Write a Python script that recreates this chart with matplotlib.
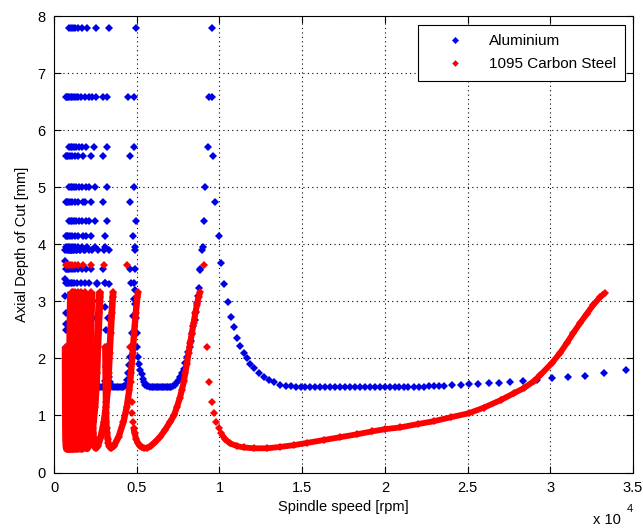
import numpy as np
import matplotlib.pyplot as plt

plt.rcParams['font.family'] = ['Liberation Sans', 'DejaVu Sans']

# spindle speed in 1000 rpm, depth of cut in mm

# --- Aluminium: isolated rows of points at high depth
al_row_depth = [7.79, 6.58, 5.70, 5.55, 5.00, 4.75, 4.40, 4.15, 3.96, 3.57, 3.32]
al_row_speed = [
    [0.92, 1.02, 1.13, 1.27, 1.45, 1.69, 2.00, 2.52, 3.33, 4.94, 9.55],
    [0.72, 0.78, 0.85, 0.92, 1.00, 1.10, 1.20, 1.32, 1.47, 1.63, 1.85, 2.12, 2.32, 2.52, 2.98, 3.23, 4.48, 4.84, 9.34, 9.55],
    [0.92, 1.00, 1.08, 1.20, 1.35, 1.50, 1.70, 1.92, 2.42, 3.23, 4.84, 9.28],
    [0.71, 0.78, 0.86, 0.96, 1.08, 1.24, 1.45, 1.75, 2.26, 2.98, 4.60, 9.64],
    [0.92, 1.00, 1.08, 1.20, 1.35, 1.50, 1.70, 1.92, 2.10, 2.46, 3.23, 4.84, 9.14],
    [0.71, 0.78, 0.86, 0.96, 1.08, 1.24, 1.45, 1.75, 1.88, 2.26, 2.98, 4.60, 9.75],
    [0.92, 1.00, 1.08, 1.20, 1.35, 1.50, 1.70, 1.92, 2.10, 2.46, 3.23, 4.94, 9.04],
    [0.71, 0.78, 0.86, 0.96, 1.08, 1.24, 1.45, 1.75, 1.94, 2.26, 3.06, 4.78, 9.95],
    [0.75, 0.82, 0.90, 1.00, 1.12, 1.26, 1.45, 1.70, 2.00, 2.46, 3.06, 4.90, 8.98],
    [0.72, 0.78, 0.85, 0.93, 1.02, 1.13, 1.27, 1.45, 1.68, 1.95, 2.26, 2.98, 4.60, 8.84],
    [0.70, 0.76, 0.83, 0.91, 1.00, 1.10, 1.23, 1.40, 1.62, 1.90, 2.10, 2.62, 3.06, 4.64],
]

# --- Aluminium lobes
al0_x = [10.09, 10.28, 10.53, 10.68, 10.86, 11.08, 11.26, 11.46, 11.66, 11.86,
         12.10, 12.37, 12.67, 12.97, 13.30, 13.68, 14.00, 14.30,
         14.60, 14.90, 15.20, 15.50, 15.80, 16.10, 16.40, 16.70, 17.00, 17.30,
         17.60, 17.90, 18.20, 18.50, 18.80, 19.10, 19.40, 19.70, 20.00, 20.30,
         20.60, 20.85, 21.15, 21.40, 21.75, 22.05, 22.35, 22.65, 22.96, 23.26, 23.57,
         24.07, 24.58, 25.08, 25.62, 26.29, 26.92, 27.56, 28.37, 29.20, 30.13,
         31.04, 32.10, 33.23, 34.58]
al0_y = [3.67, 3.30, 2.99, 2.72, 2.55, 2.35, 2.22, 2.10, 2.00, 1.90,
         1.83, 1.75, 1.68, 1.62, 1.58, 1.54, 1.52, 1.51,
         1.50, 1.50, 1.50, 1.50, 1.50, 1.50, 1.50, 1.50, 1.50, 1.50,
         1.50, 1.50, 1.50, 1.50, 1.50, 1.50, 1.50, 1.50, 1.50, 1.50,
         1.50, 1.50, 1.50, 1.50, 1.50, 1.50, 1.50, 1.51, 1.51, 1.51, 1.52,
         1.53, 1.535, 1.55, 1.56, 1.57, 1.575, 1.59, 1.605, 1.62, 1.65,
         1.68, 1.70, 1.75, 1.79]

al1_x = [4.88, 4.92, 4.96, 5.00, 5.04, 5.10, 5.15, 5.22, 5.29, 5.35, 5.42,
         5.50, 5.60, 5.70, 5.80, 5.90, 6.00, 6.10, 6.20, 6.30, 6.40, 6.50,
         6.60, 6.70, 6.80, 6.90, 7.00, 7.10, 7.20,
         7.32, 7.43, 7.53, 7.63, 7.73, 7.83, 7.93, 8.03, 8.12, 8.20,
         8.28, 8.36, 8.43, 8.50, 8.57, 8.64, 8.70, 8.76, 8.84, 8.96]
al1_y = [3.20, 2.95, 2.70, 2.45, 2.20, 2.02, 1.90, 1.80, 1.72, 1.64, 1.58,
         1.54, 1.52, 1.51, 1.50, 1.50, 1.50, 1.50, 1.50, 1.50, 1.50, 1.50,
         1.50, 1.50, 1.50, 1.50, 1.50, 1.50, 1.51,
         1.54, 1.59, 1.63, 1.68, 1.74, 1.82, 1.92, 2.02, 2.12, 2.20,
         2.30, 2.42, 2.56, 2.68, 2.82, 2.97, 3.10, 3.23, 3.55, 3.90]

al2_x = [3.02, 3.06, 3.10, 3.14, 3.18, 3.22, 3.27, 3.33, 3.40, 3.48,
         3.58, 3.68, 3.78, 3.88, 3.98, 4.08, 4.18,
         4.26, 4.34, 4.42, 4.50, 4.56, 4.62, 4.68, 4.73, 4.78, 4.82, 4.85, 4.88, 4.92]
al2_y = [3.90, 3.32, 2.90, 2.50, 2.20, 2.00, 1.83, 1.68, 1.58, 1.52,
         1.50, 1.50, 1.50, 1.50, 1.50, 1.50, 1.50,
         1.51, 1.54, 1.62, 1.74, 1.88, 2.03, 2.20, 2.45, 2.75, 3.05, 3.32, 3.57, 3.90]

al3_x = [2.30, 2.35, 2.40, 2.45, 2.52, 2.60, 2.70, 2.80, 2.90, 3.00, 3.08, 3.15, 3.20, 3.25, 3.30, 3.35]
al3_y = [3.90, 3.00, 2.20, 1.80, 1.58, 1.51, 1.50, 1.50, 1.50, 1.51, 1.60, 1.85, 2.20, 2.70, 3.30, 3.90]
al4_x = [1.85, 1.90, 1.94, 1.98, 2.03, 2.10, 2.20, 2.30, 2.38, 2.44, 2.48, 2.52, 2.56, 2.60, 2.63]
al4_y = [3.90, 3.00, 2.20, 1.80, 1.58, 1.51, 1.50, 1.50, 1.51, 1.60, 1.85, 2.20, 2.70, 3.30, 3.90]

# narrow low-speed lobes (5 to 12), same depth levels for each
al_narrow_y = [3.90, 2.60, 1.80, 1.50, 1.80, 2.60, 3.90]
al_narrow_x = [
    [1.55, 1.58, 1.62, 1.75, 1.98, 2.06, 2.13],
    [1.33, 1.36, 1.39, 1.50, 1.67, 1.74, 1.79],
    [1.17, 1.19, 1.22, 1.31, 1.45, 1.51, 1.55],
    [1.04, 1.06, 1.08, 1.16, 1.28, 1.33, 1.37],
    [0.94, 0.96, 0.98, 1.04, 1.15, 1.19, 1.22],
    [0.85, 0.87, 0.89, 0.94, 1.04, 1.07, 1.10],
    [0.77, 0.79, 0.81, 0.86, 0.94, 0.97, 1.00],
    [0.68, 0.70, 0.72, 0.78, 0.86, 0.89, 0.92],
]
al_edge_x = [0.68, 0.685, 0.69, 0.695, 0.70, 0.705, 0.71, 0.72, 0.74]
al_edge_y = [3.70, 3.40, 3.10, 2.80, 2.50, 2.20, 1.95, 1.70, 1.52]

# --- 1095 Carbon Steel lobes
st0_x = [9.04, 9.22, 9.39, 9.54, 9.69, 9.81, 9.95, 10.09,
         10.35, 10.65, 11.06, 11.46, 12.07, 12.87,
         13.68, 14.49, 15.30, 16.30, 17.30, 18.30, 19.20, 20.00, 20.90,
         22.00, 22.96, 24.00, 25.08, 26.00, 27.00, 27.80, 28.40,
         29.00, 29.40, 30.10, 30.60, 31.00, 31.40, 31.80, 32.20, 32.60, 33.00, 33.30]
st0_y = [3.64, 2.20, 1.58, 1.23, 1.04, 0.89, 0.775, 0.69,
         0.58, 0.51, 0.465, 0.44, 0.425, 0.425,
         0.45, 0.48, 0.52, 0.57, 0.62, 0.67, 0.72, 0.76, 0.79,
         0.85, 0.90, 0.97, 1.04, 1.14, 1.27, 1.39, 1.48,
         1.60, 1.71, 1.92, 2.10, 2.27, 2.45, 2.62, 2.78, 2.94, 3.07, 3.15]

st1_x = [4.44, 4.60, 4.67, 4.70, 4.72, 4.75, 4.81, 4.87,
         4.97, 5.08, 5.20, 5.32, 5.45,
         5.65, 5.85, 6.10, 6.42, 6.72, 7.02,
         7.25, 7.43, 7.60, 7.73, 7.85, 7.93, 8.03, 8.13, 8.23, 8.33,
         8.44, 8.54, 8.64, 8.74, 8.84]
st1_y = [3.64, 2.20, 1.58, 1.23, 1.04, 0.89, 0.775, 0.69,
         0.58, 0.51, 0.465, 0.44, 0.425,
         0.43, 0.47, 0.53, 0.63, 0.75, 0.89,
         1.00, 1.15, 1.30, 1.45, 1.60, 1.74, 1.90, 2.09, 2.27, 2.44,
         2.62, 2.79, 2.94, 3.08, 3.17]

st_mid_y = [3.64, 2.20, 1.58, 1.23, 1.04, 0.89, 0.775, 0.69, 0.58, 0.51, 0.465, 0.44, 0.425,
            0.47, 0.63, 0.89, 1.15, 1.45, 1.74, 2.09, 2.44, 2.79, 3.08, 3.17]
st2_x = [3.03, 3.10, 3.12, 3.14, 3.15, 3.16, 3.18, 3.21, 3.25, 3.29, 3.34, 3.39, 3.44,
         3.63, 3.91, 4.20, 4.40, 4.55, 4.65, 4.75, 4.84, 4.94, 5.04, 5.09]
st3_x = [2.26, 2.30, 2.32, 2.33, 2.34, 2.34, 2.36, 2.38, 2.40, 2.43, 2.46, 2.49, 2.53,
         2.65, 2.83, 3.02, 3.14, 3.24, 3.30, 3.36, 3.42, 3.49, 3.55, 3.58]
st4_x = [1.76, 1.80, 1.81, 1.82, 1.82, 1.83, 1.85, 1.86, 1.88, 1.90, 1.93, 1.96, 1.99,
         2.08, 2.22, 2.36, 2.45, 2.52, 2.57, 2.61, 2.66, 2.71, 2.76, 2.78]

st_narrow_y = [3.64, 2.20, 1.23, 0.775, 0.58, 0.465, 0.425,
               0.47, 0.63, 0.89, 1.45, 2.09, 2.79, 3.17]
st_narrow_x = [
    [1.46, 1.49, 1.51, 1.53, 1.57, 1.61, 1.66, 1.73, 1.83, 1.93, 2.05, 2.12, 2.19, 2.24],
    [1.25, 1.28, 1.29, 1.31, 1.33, 1.37, 1.41, 1.47, 1.55, 1.63, 1.73, 1.79, 1.85, 1.89],
    [1.10, 1.12, 1.13, 1.15, 1.17, 1.20, 1.23, 1.28, 1.34, 1.42, 1.50, 1.55, 1.59, 1.63],
    [0.97, 0.99, 1.00, 1.01, 1.03, 1.06, 1.09, 1.13, 1.19, 1.25, 1.33, 1.37, 1.41, 1.44],
    [0.88, 0.90, 0.91, 0.92, 0.93, 0.955, 0.98, 1.02, 1.07, 1.12, 1.19, 1.23, 1.26, 1.29],
    [0.80, 0.81, 0.82, 0.83, 0.85, 0.87, 0.89, 0.92, 0.97, 1.02, 1.07, 1.10, 1.14, 1.16],
    [0.73, 0.74, 0.75, 0.76, 0.77, 0.79, 0.81, 0.84, 0.88, 0.93, 0.98, 1.01, 1.04, 1.06],
]

blue = '#0000e6'
red = '#ff0000'

# gather aluminium points
ax_pts, ay_pts = [], []
for d, row in zip(al_row_depth, al_row_speed):
    ax_pts += row
    ay_pts += [d] * len(row)
for xs, ys in [(al0_x, al0_y), (al1_x, al1_y), (al2_x, al2_y), (al3_x, al3_y),
               (al4_x, al4_y), (al_edge_x, al_edge_y)]:
    ax_pts += xs
    ay_pts += ys
for xs in al_narrow_x:
    ax_pts += xs
    ay_pts += al_narrow_y

# steel lobes: (x, y, index where the dense part of the lobe starts, line width)
st_lobes = [(st0_x, st0_y, 7, 4.2), (st1_x, st1_y, 6, 4.4),
            (st2_x, st_mid_y, 1, 4.6), (st3_x, st_mid_y, 1, 4.8), (st4_x, st_mid_y, 1, 5.5)]
for xs in st_narrow_x:
    st_lobes.append((xs, st_narrow_y, 1, 6.5))

fig = plt.figure(figsize=(6.43, 5.28), dpi=100)
ax = fig.add_axes([0.084, 0.105, 0.9005, 0.8646])

ax.plot(np.array(ax_pts) * 1000, ay_pts, 'D', color=blue, ms=4.2, mew=0,
        ls='none', label='Aluminium', zorder=3)

sx_pts, sy_pts = [], []
for xs, ys, k, lw in st_lobes:
    ax.plot(np.array(xs[k:]) * 1000, ys[k:], '-', color=red, lw=lw,
            solid_joinstyle='round', solid_capstyle='butt', zorder=4)
    sx_pts += xs
    sy_pts += ys
ax.plot(np.array(sx_pts) * 1000, sy_pts, 'D', color=red, ms=4.0, mew=0,
        ls='none', label='1095 Carbon Steel', zorder=4)

ax.set_xlim(0, 35000)
ax.set_ylim(0, 8)
ax.set_xticks(np.arange(0, 35001, 5000))
ax.set_xticklabels(['0', '0.5', '1', '1.5', '2', '2.5', '3', '3.5'])
ax.set_yticks(range(9))
ax.tick_params(direction='in', length=5, width=0.8, top=True, right=True,
               labelsize=10.5, pad=6)
ax.grid(True, linestyle=(0, (1, 3)), color='k', linewidth=0.8)
for s in ax.spines.values():
    s.set_linewidth(0.8)

ax.set_xlabel('Spindle speed [rpm]', fontsize=10.5, labelpad=4)
ax.set_ylabel('Axial Depth of Cut [mm]', fontsize=10.5, labelpad=6)

fig.text(593 / 643, 1 - 524 / 528, 'x 10', fontsize=10.5, ha='left', va='baseline')
fig.text(627 / 643, 1 - 512 / 528, '4', fontsize=8, ha='left', va='baseline')

leg = ax.legend(loc='upper right', bbox_to_anchor=(625 / 643, 1 - 25 / 528),
                bbox_transform=fig.transFigure, fontsize=11, fancybox=False,
                framealpha=1, edgecolor='k', borderpad=0.6, handlelength=3.6,
                handletextpad=0.4, labelspacing=0.6, borderaxespad=0,
                markerscale=0.85)
leg.get_frame().set_linewidth(0.8)

fig.savefig('out.png', dpi=100)
